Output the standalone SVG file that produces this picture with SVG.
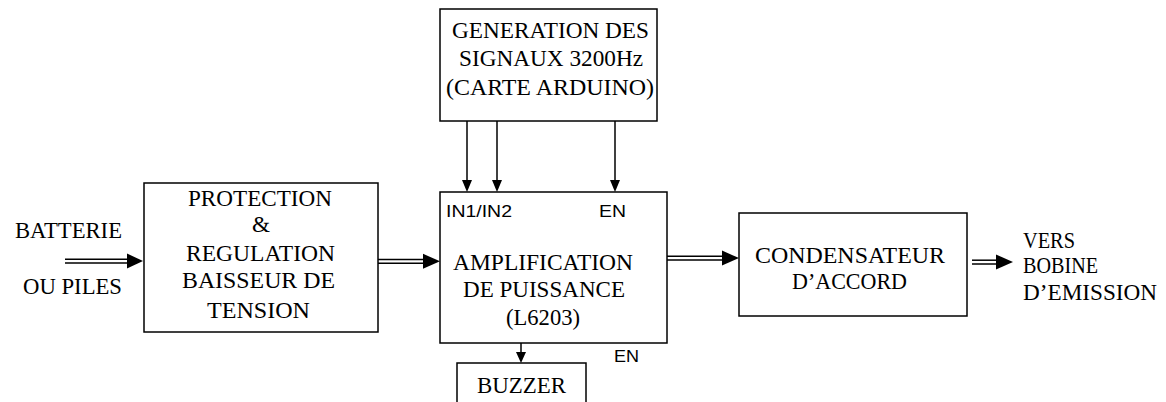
<svg xmlns="http://www.w3.org/2000/svg" width="1166" height="402" viewBox="0 0 1166 402">
<style>
.box{fill:#fff;stroke:#000;stroke-width:1.5}
.t{font-family:"Liberation Serif","Times New Roman",serif;font-size:23px;fill:#000}
.s{font-family:"Liberation Sans",Arial,sans-serif;font-size:17px;fill:#000}
.ln{stroke:#000;stroke-width:1.5;fill:none}
.dl{stroke:#000;stroke-width:1.5;fill:none}
.ah{fill:#000}
</style>
<rect width="1166" height="402" fill="#fff"/>
<g id="connectors">
  <line class="dl" x1="65" y1="259.2" x2="128" y2="259.2"/>
  <line class="dl" x1="65" y1="263" x2="128" y2="263"/>
  <polygon class="ah" points="127,253.5 143,261 127,268.5"/>
  <line class="dl" x1="378" y1="259.4" x2="425" y2="259.4"/>
  <line class="dl" x1="378" y1="263.2" x2="425" y2="263.2"/>
  <polygon class="ah" points="423,253.8 440,261.3 423,268.8"/>
  <line class="dl" x1="667" y1="256.2" x2="724" y2="256.2"/>
  <line class="dl" x1="667" y1="260" x2="724" y2="260"/>
  <polygon class="ah" points="722,250.6 739,258.1 722,265.6"/>
  <line class="dl" x1="972" y1="260.2" x2="998" y2="260.2"/>
  <line class="dl" x1="972" y1="264" x2="998" y2="264"/>
  <polygon class="ah" points="996,254.6 1013,262.1 996,269.6"/>
  <line class="ln" x1="467" y1="121" x2="467" y2="182"/>
  <polygon class="ah" points="462,180 472,180 467,192"/>
  <line class="ln" x1="497" y1="121" x2="497" y2="182"/>
  <polygon class="ah" points="492,180 502,180 497,192"/>
  <line class="ln" x1="615" y1="121" x2="615" y2="182"/>
  <polygon class="ah" points="610,180 620,180 615,192"/>
  <line class="ln" x1="521" y1="343" x2="521" y2="354"/>
  <polygon class="ah" points="516,352 526,352 521,363"/>
</g>
<g id="input-label">
  <text class="t" x="15" y="238" textLength="107" lengthAdjust="spacingAndGlyphs">BATTERIE</text>
  <text class="t" x="23" y="294" textLength="99" lengthAdjust="spacingAndGlyphs">OU PILES</text>
</g>
<g id="generation">
  <rect class="box" x="440" y="9" width="217" height="112"/>
  <text class="t" x="452" y="37.5" textLength="197" lengthAdjust="spacingAndGlyphs">GENERATION DES</text>
  <text class="t" x="459" y="66" textLength="184" lengthAdjust="spacingAndGlyphs">SIGNAUX 3200Hz</text>
  <text class="t" x="446" y="95" textLength="208" lengthAdjust="spacingAndGlyphs">(CARTE ARDUINO)</text>
</g>
<g id="protection">
  <rect class="box" x="144" y="183" width="234" height="149"/>
  <text class="t" x="188" y="206" textLength="144" lengthAdjust="spacingAndGlyphs">PROTECTION</text>
  <text class="t" x="252" y="232" textLength="18" lengthAdjust="spacingAndGlyphs">&amp;</text>
  <text class="t" x="186" y="261" textLength="149" lengthAdjust="spacingAndGlyphs">REGULATION</text>
  <text class="t" x="182" y="288" textLength="153" lengthAdjust="spacingAndGlyphs">BAISSEUR DE</text>
  <text class="t" x="207" y="318" textLength="103" lengthAdjust="spacingAndGlyphs">TENSION</text>
</g>
<g id="amplification">
  <rect class="box" x="440" y="192" width="227" height="151"/>
  <text class="s" x="446" y="217" textLength="66" lengthAdjust="spacingAndGlyphs">IN1/IN2</text>
  <text class="s" x="599" y="217" textLength="27" lengthAdjust="spacingAndGlyphs">EN</text>
  <text class="t" x="453" y="270" textLength="180" lengthAdjust="spacingAndGlyphs">AMPLIFICATION</text>
  <text class="t" x="463" y="297" textLength="162" lengthAdjust="spacingAndGlyphs">DE PUISSANCE</text>
  <text class="t" x="506" y="325" textLength="74" lengthAdjust="spacingAndGlyphs">(L6203)</text>
  <text class="s" x="614" y="362" textLength="25" lengthAdjust="spacingAndGlyphs">EN</text>
</g>
<g id="buzzer">
  <rect class="box" x="457" y="363" width="129" height="50"/>
  <text class="t" x="477" y="393" textLength="89" lengthAdjust="spacingAndGlyphs">BUZZER</text>
</g>
<g id="condensateur">
  <rect class="box" x="739" y="213" width="228" height="103"/>
  <text class="t" x="755" y="263" textLength="190" lengthAdjust="spacingAndGlyphs">CONDENSATEUR</text>
  <text class="t" x="792" y="289" textLength="115" lengthAdjust="spacingAndGlyphs">D’ACCORD</text>
</g>
<g id="output-label">
  <text class="t" x="1023" y="248" textLength="52" lengthAdjust="spacingAndGlyphs">VERS</text>
  <text class="t" x="1023" y="273" textLength="75" lengthAdjust="spacingAndGlyphs">BOBINE</text>
  <text class="t" x="1023" y="300" textLength="134" lengthAdjust="spacingAndGlyphs">D’EMISSION</text>
</g>
</svg>
